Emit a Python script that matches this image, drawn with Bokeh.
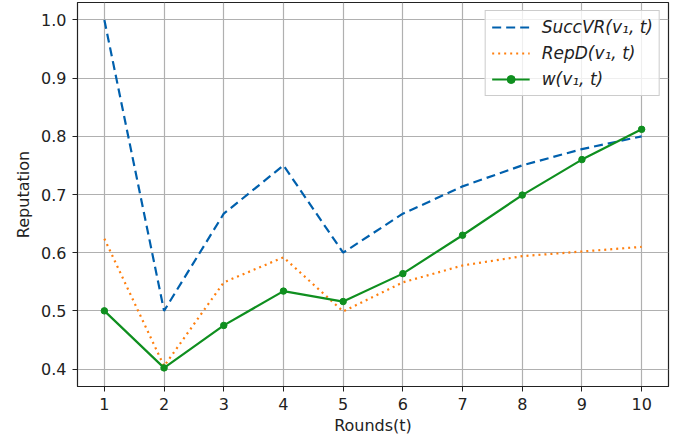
from bokeh.plotting import figure
from bokeh.models import Range1d, FixedTicker, Legend, LegendItem, PrintfTickFormatter
from bokeh.embed import file_html
from bokeh.resources import INLINE

rounds = [1, 2, 3, 4, 5, 6, 7, 8, 9, 10]
succ_vr = [1.0, 0.5, 0.667, 0.75, 0.6, 0.667, 0.714, 0.75, 0.778, 0.8]
rep_d = [0.624, 0.405, 0.549, 0.592, 0.499, 0.549, 0.578, 0.594, 0.602, 0.610]
w_vals = [0.5, 0.402, 0.475, 0.534, 0.516, 0.564, 0.630, 0.699, 0.760, 0.812]
x_ticks = [1, 2, 3, 4, 5, 6, 7, 8, 9, 10]
y_ticks = [0.4, 0.5, 0.6, 0.7, 0.8, 0.9, 1.0]

BLUE = "#0060ad"
ORANGE = "#ff7f0e"
GREEN = "#0f8f1f"
FONT = "DejaVu Sans"

p = figure(width=686, height=446, output_backend="svg", toolbar_location=None,
           x_range=Range1d(0.55, 10.45), y_range=Range1d(0.37, 1.03),
           min_border_left=77, min_border_right=18, min_border_top=2, min_border_bottom=60)

p.outline_line_color = "#222222"
p.outline_line_width = 1.2
p.background_fill_color = "white"
p.border_fill_color = "white"

for ax in (p.xaxis[0], p.yaxis[0]):
    ax.major_label_text_font = FONT
    ax.major_label_text_font_size = "16px"
    ax.major_label_text_color = "#222222"
    ax.axis_label_text_font = FONT
    ax.axis_label_text_font_size = "16px"
    ax.axis_label_text_font_style = "normal"
    ax.axis_label_text_color = "#222222"
    ax.major_tick_in = 0
    ax.major_tick_out = 5
    ax.minor_tick_in = 0
    ax.minor_tick_out = 0
    ax.axis_line_color = "#222222"
    ax.major_tick_line_color = "#222222"

p.xaxis.ticker = FixedTicker(ticks=x_ticks)
p.yaxis.ticker = FixedTicker(ticks=y_ticks)
p.yaxis.formatter = PrintfTickFormatter(format="%.1f")
p.xaxis.axis_label = "Rounds(t)"
p.yaxis.axis_label = "Reputation"
p.xaxis.axis_label_standoff = 3
p.yaxis.axis_label_standoff = 5
p.xaxis.major_label_standoff = 6
p.yaxis.major_label_standoff = 6

p.xgrid.ticker = FixedTicker(ticks=x_ticks)
p.ygrid.ticker = FixedTicker(ticks=y_ticks)
p.grid.grid_line_color = "#b0b0b0"
p.grid.grid_line_width = 1.2

r1 = p.line(rounds, succ_vr, line_color=BLUE, line_width=2.2, line_dash="9 5")
r2 = p.line(rounds, rep_d, line_color=ORANGE, line_width=2.2, line_dash="2 4")
r3 = p.line(rounds, w_vals, line_color=GREEN, line_width=2.2)
r3m = p.scatter(rounds, w_vals, size=6.5, fill_color=GREEN, line_color=GREEN)

legend = Legend(items=[
    LegendItem(label="SuccVR(v\u2081, t)", renderers=[r1]),
    LegendItem(label="RepD(v\u2081, t)", renderers=[r2]),
    LegendItem(label="w(v\u2081, t)", renderers=[r3, r3m]),
], location="top_right")
legend.label_text_font = FONT
legend.label_text_font_size = "17px"
legend.label_text_font_style = "italic"
legend.label_text_color = "#222222"
legend.border_line_color = "#cccccc"
legend.border_line_width = 1
legend.border_line_alpha = 1
legend.background_fill_alpha = 0.8
legend.glyph_width = 38
legend.glyph_height = 20
legend.spacing = 6
legend.padding = 6
legend.margin = 8
legend.label_standoff = 12
p.add_layout(legend)

open("out.html", "w").write(file_html(p, INLINE))
